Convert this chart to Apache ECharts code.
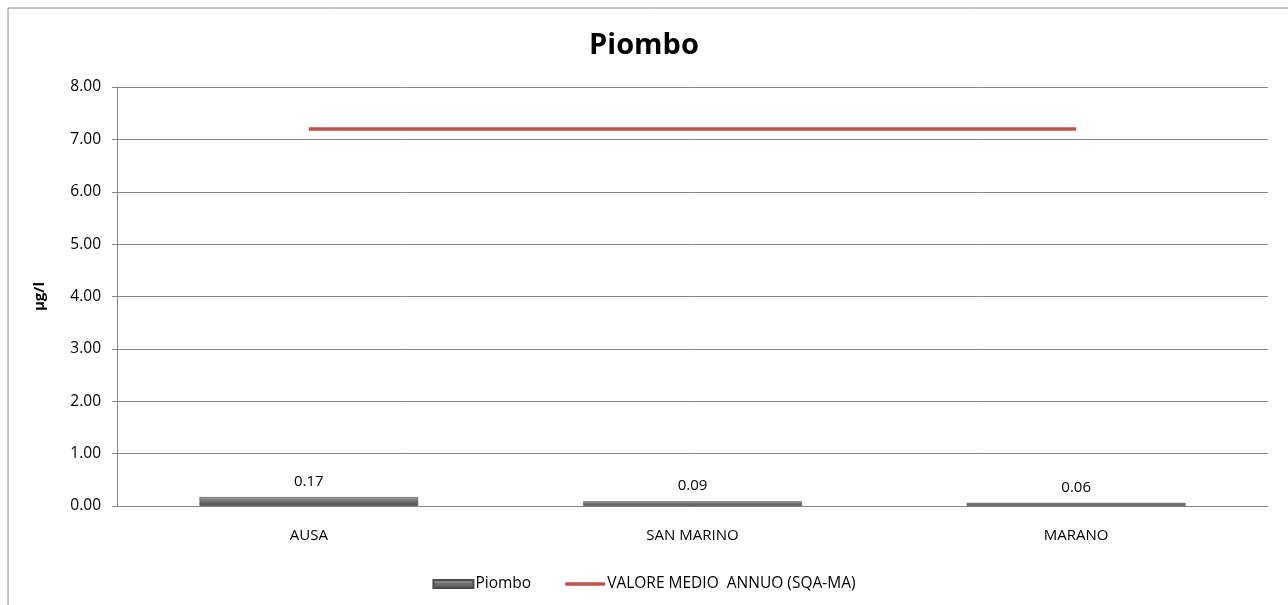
<!DOCTYPE html>
<html>
<head>
<meta charset="utf-8">
<script src="https://cdn.jsdelivr.net/npm/echarts@6/dist/echarts.min.js"></script>
<style>
  html, body { margin: 0; padding: 0; background: #fff; }
  #chart { width: 1288px; height: 605px; }
</style>
</head>
<body>
<div id="chart"></div>
<script>
const categories = ['AUSA', 'SAN MARINO', 'MARANO']
const piombo = [0.17, 0.09, 0.06]
const sqaMa = [7.2, 7.2, 7.2]
const yTicks = { min: 0, max: 8, interval: 1 }

const chart = echarts.init(document.getElementById('chart'))

const barColor = {
  type: 'linear', x: 0, y: 0, x2: 0, y2: 1,
  colorStops: [
    { offset: 0, color: '#a0a0a0' },
    { offset: 0.5, color: '#6e6e6e' },
    { offset: 1, color: '#505050' }
  ]
}

const option = {
  animation: false,
  textStyle: { fontFamily: 'Open Sans' },
  graphic: [{
    type: 'rect',
    shape: { x: 8, y: 8, width: 1290, height: 610 },
    style: { fill: 'none', stroke: '#868686', lineWidth: 1 },
    silent: true
  }],
  title: {
    text: 'Piombo',
    left: 'center',
    top: 26,
    textStyle: { color: '#000', fontSize: 29, fontWeight: 'bold', fontFamily: 'Open Sans' }
  },
  legend: {
    bottom: 8,
    left: 'center',
    itemGap: 34,
    itemWidth: 40,
    itemHeight: 8,
    textStyle: { color: '#000', fontSize: 15.5, padding: [0, 0, 0, -3] },
    data: [
      { name: 'Piombo', icon: 'rect' },
      { name: 'VALORE MEDIO  ANNUO (SQA-MA)', icon: 'path://M0,0L40,0L40,3.5L0,3.5Z' }
    ]
  },
  grid: { left: 117, right: 20, top: 87, bottom: 99 },
  xAxis: {
    type: 'category',
    data: categories,
    axisLine: { lineStyle: { color: '#868686' } },
    axisTick: { show: false },
    axisLabel: { color: '#000', fontSize: 15, margin: 22 }
  },
  yAxis: {
    type: 'value',
    min: yTicks.min,
    max: yTicks.max,
    interval: yTicks.interval,
    name: 'µg/l',
    nameLocation: 'middle',
    nameGap: 70,
    nameRotate: 90,
    nameTextStyle: { color: '#000', fontSize: 15, fontWeight: 'bold' },
    axisLine: { show: true, lineStyle: { color: '#868686' } },
    axisTick: { show: true, length: 5, lineStyle: { color: '#868686' } },
    axisLabel: { color: '#000', fontSize: 15.5, margin: 16, formatter: v => v.toFixed(2) },
    splitLine: { lineStyle: { color: '#868686' } }
  },
  series: [
    {
      name: 'Piombo',
      type: 'bar',
      data: piombo,
      barWidth: '57%',
      itemStyle: { color: barColor, borderColor: '#4a4a4a', borderWidth: 0.5 },
      label: {
        show: true,
        position: 'top',
        distance: 8,
        color: '#000',
        fontSize: 15,
        formatter: p => p.value.toFixed(2)
      }
    },
    {
      name: 'VALORE MEDIO  ANNUO (SQA-MA)',
      type: 'line',
      data: sqaMa,
      symbol: 'none',
      lineStyle: { color: '#C0504D', width: 3.5 },
      itemStyle: { color: '#C0504D' }
    }
  ]
}

chart.setOption(option)
</script>
</body>
</html>
